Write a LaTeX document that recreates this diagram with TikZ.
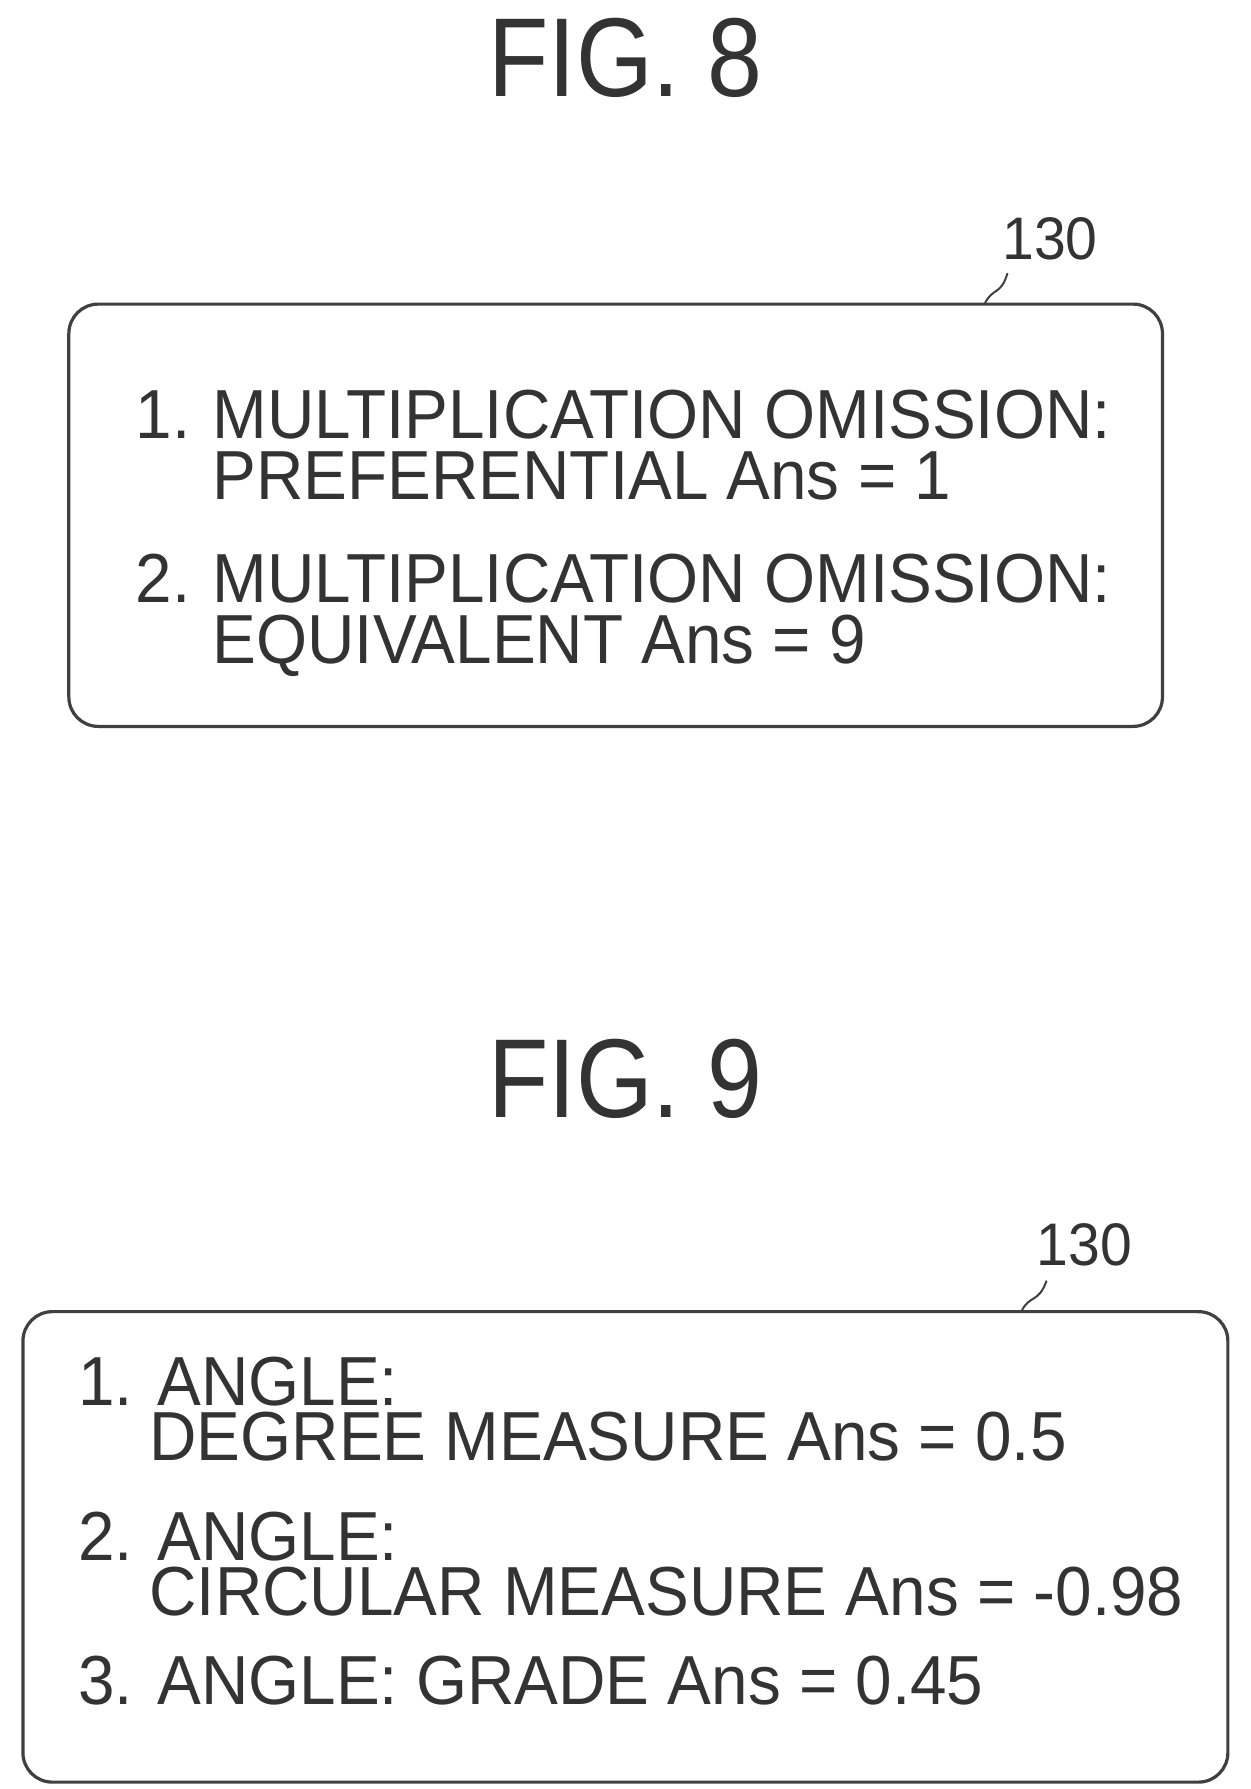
\documentclass[tikz,border=0pt]{standalone}
\usepackage{fontspec}
\setmainfont{Liberation Sans}
\begin{document}
\begin{tikzpicture}[x=0.0302cm,y=-0.0302cm,
  fig/.style={font=\fontsize{84}{90}\selectfont, color=black!80, xscale=0.88},
  txt/.style={anchor=base west, inner sep=0, font=\fontsize{52}{56}\selectfont, color=black!80, xscale=0.945},
  lbl/.style={inner sep=0, font=\fontsize{45}{50}\selectfont, color=black!80, xscale=0.95},
  panel/.style={draw=black!75, line width=2.4pt, rounded corners=22pt},
  lead/.style={draw=black!75, line width=1.5pt}]
\useasboundingbox (0,0) rectangle (1090,1559);
\node[fig] (f8) at (545,50) {FIG. 8};
\draw[panel] (60,265) rectangle (1013,633);
\node[txt] (a1) at (118,382) {1.};
\node[txt] (a1b) at (185,382) {MULTIPLICATION OMISSION:};
\node[txt] (a2) at (185,435) {PREFERENTIAL Ans = 1};
\node[txt] (a3) at (118,525) {2.};
\node[txt] (a3b) at (185,525) {MULTIPLICATION OMISSION:};
\node[txt] (a4) at (185,578) {EQUIVALENT Ans = 9};
\node[lbl] (l8) at (915,208) {130};
\coordinate (s8) at (858,265);
\draw[lead] (s8) .. controls (865,250) and (872,258) .. (878,238);
\node[fig] (f9) at (545,940) {FIG. 9};
\draw[panel] (20,1143) rectangle (1070,1553);
\node[txt] (b1) at (68,1225) {1. ANGLE:};
\node[txt] (b2) at (130,1273) {DEGREE MEASURE Ans = 0.5};
\node[txt] (b3) at (68,1360) {2. ANGLE:};
\node[txt] (b4) at (130,1408) {CIRCULAR MEASURE Ans = -0.98};
\node[txt] (b5) at (68,1485) {3. ANGLE: GRADE Ans = 0.45};
\node[lbl] (l9) at (945,1085) {130};
\coordinate (s9) at (890,1143);
\draw[lead] (s9) .. controls (897,1128) and (905,1136) .. (912,1116);
\end{tikzpicture}
\end{document}
